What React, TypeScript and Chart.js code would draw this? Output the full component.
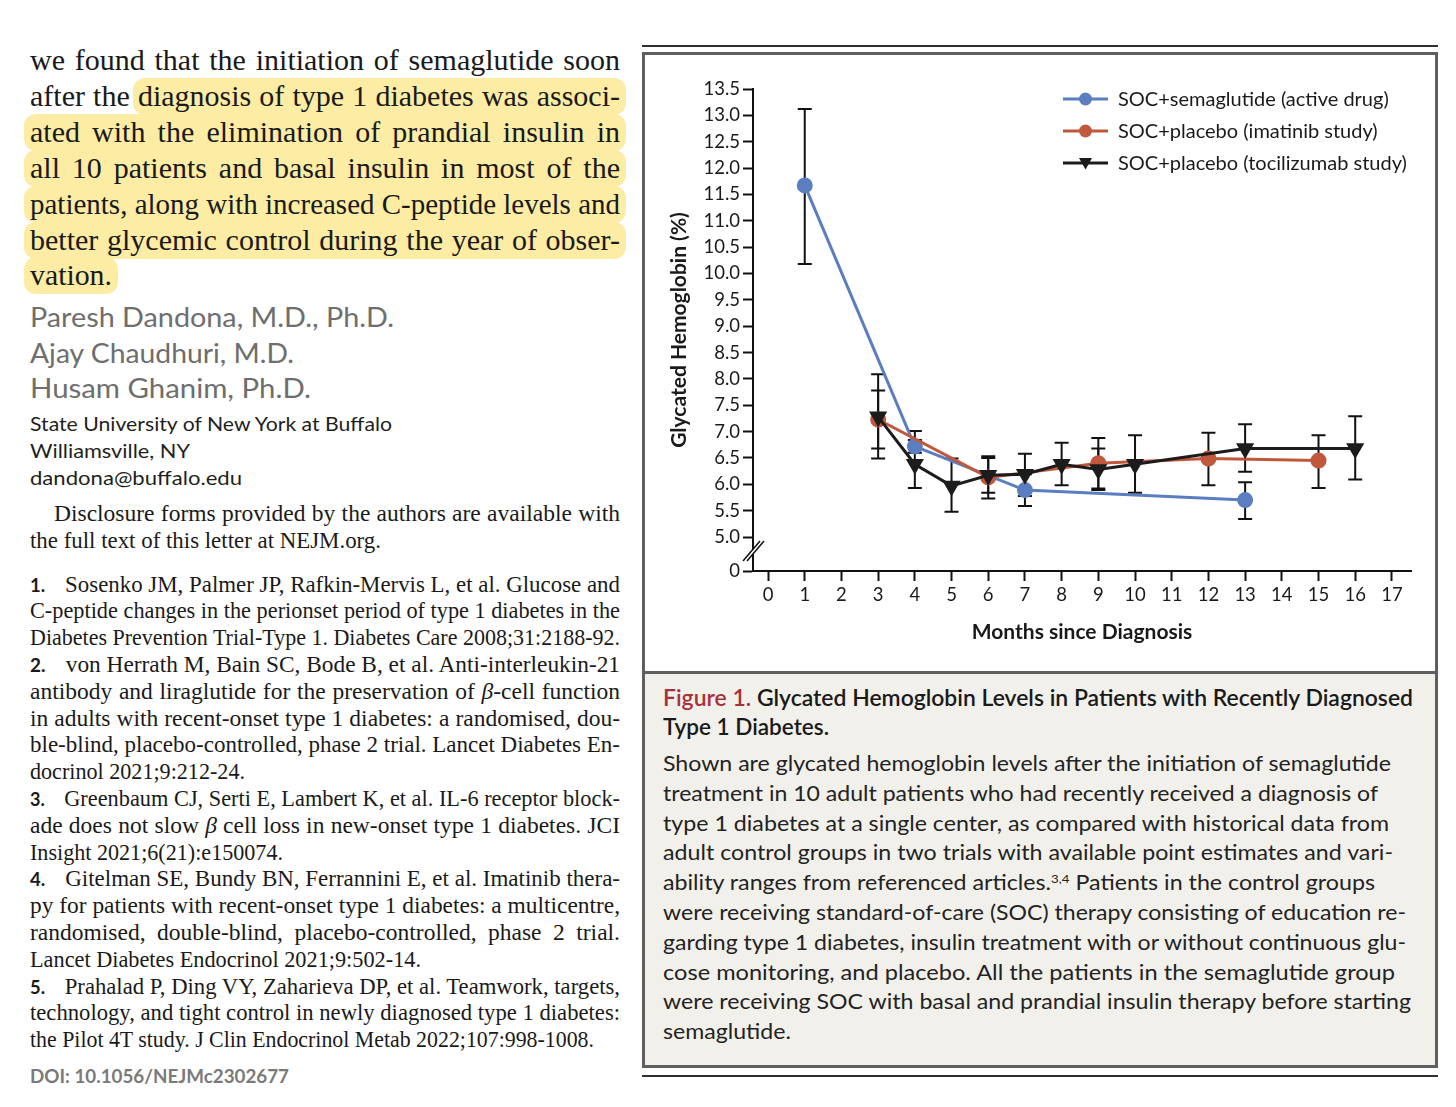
import React, { useEffect, useLayoutEffect, useRef } from 'react';
import { Chart, registerables } from 'chart.js';

Chart.register(...registerables);

// ---------------- DATA ----------------
const seriesNames = [
  'SOC+semaglutide (active drug)',
  'SOC+placebo (imatinib study)',
  'SOC+placebo (tocilizumab study)',
];

const semaMonths = [1, 4, 7, 13];
const semaValues = [11.67, 6.72, 5.89, 5.7];
const semaLow = [10.18, 6.6, 5.59, 5.34];
const semaHigh = [13.12, 6.84, 6.19, 6.04];

const imaMonths = [3, 6, 9, 12, 15];
const imaValues = [7.23, 6.13, 6.4, 6.49, 6.45];
const imaLow = [6.68, 5.73, 5.92, 5.98, 5.93];
const imaHigh = [7.78, 6.5, 6.88, 6.98, 6.93];

const tociMonths = [3, 4, 5, 6, 7, 8, 9, 10, 13, 16];
const tociValues = [7.28, 6.38, 5.97, 6.17, 6.19, 6.38, 6.28, 6.38, 6.68, 6.68];
const tociLow = [6.49, 5.93, 5.48, 5.84, 5.78, 5.98, 5.89, 5.84, 6.24, 6.09];
const tociHigh = [8.09, 7.01, 6.49, 6.53, 6.58, 6.79, 6.68, 6.93, 7.14, 7.29];

const xTickValues = [0, 1, 2, 3, 4, 5, 6, 7, 8, 9, 10, 11, 12, 13, 14, 15, 16, 17];
const yTickValues = [5.0, 5.5, 6.0, 6.5, 7.0, 7.5, 8.0, 8.5, 9.0, 9.5, 10.0, 10.5, 11.0, 11.5, 12.0, 12.5, 13.0, 13.5];
const yBrokenZero = 4.355; // where the broken axis shows "0"
const yZeroLabel = '0';

const xTitle = 'Months since Diagnosis';
const yTitle = 'Glycated Hemoglobin (%)';

const COLORS = ['#5b7ec1', '#c0593c', '#1c1c1c'];

// ---------------- TEXT HELPERS ----------------
const SERIF = "'Liberation Serif', 'DejaVu Serif', serif";
const SANS = "Lato, 'Noto Sans', sans-serif";

type LP = {
  x: number;
  cy: number;
  w?: number;
  lh?: number;
  mode?: 'justify' | 'fit' | 'none';
  style?: React.CSSProperties;
  children: React.ReactNode;
};

function Line({ x, cy, w, lh = 30, mode = 'none', style, children }: LP) {
  const ref = useRef<HTMLSpanElement>(null);
  useLayoutEffect(() => {
    const el = ref.current;
    if (!el) return;
    const apply = () => {
      el.style.wordSpacing = '0px';
      el.style.transform = 'none';
      const nat = el.getBoundingClientRect().width;
      if (!w || mode === 'none' || nat <= 0) return;
      if (mode === 'justify') {
        const spaces = (el.textContent || '').split(' ').length - 1;
        if (nat < w && spaces > 0) el.style.wordSpacing = (w - nat) / spaces + 'px';
        else if (nat > w) el.style.transform = `scaleX(${w / nat})`;
      } else {
        el.style.transform = `scaleX(${w / nat})`;
      }
    };
    apply();
    if ((document as any).fonts && (document as any).fonts.ready) (document as any).fonts.ready.then(apply);
  }, [w, mode]);
  return (
    <div
      style={{
        position: 'absolute',
        left: x,
        top: cy - lh / 2,
        height: lh,
        lineHeight: lh + 'px',
        whiteSpace: 'nowrap',
        ...style,
      }}
    >
      <span ref={ref} style={{ display: 'inline-block', transformOrigin: '0 50%' }}>
        {children}
      </span>
    </div>
  );
}

const Num = ({ n }: { n: string }) => (
  <span style={{ display: 'inline-block', width: 36, fontFamily: SANS, fontWeight: 700, fontSize: 19 }}>{n}</span>
);
const Beta = () => <i>β</i>;

// ---------------- CHART ----------------
function FigureChart() {
  const canvasRef = useRef<HTMLCanvasElement>(null);

  useEffect(() => {
    const canvas = canvasRef.current;
    if (!canvas) return;

    const errorBarPlugin = {
      id: 'errorBars',
      beforeDatasetsDraw(chart: any) {
        const { ctx } = chart;
        const xs = chart.scales.x;
        const ys = chart.scales.y;
        ctx.save();
        ctx.strokeStyle = '#111';
        ctx.lineWidth = 2;
        chart.data.datasets.forEach((ds: any) => {
          ds.data.forEach((p: any, i: number) => {
            const px = xs.getPixelForValue(p.x);
            const yl = ys.getPixelForValue(ds.errLow[i]);
            const yh = ys.getPixelForValue(ds.errHigh[i]);
            ctx.beginPath();
            ctx.moveTo(px, yl);
            ctx.lineTo(px, yh);
            ctx.moveTo(px - 7, yl);
            ctx.lineTo(px + 7, yl);
            ctx.moveTo(px - 7, yh);
            ctx.lineTo(px + 7, yh);
            ctx.stroke();
          });
        });
        ctx.restore();
      },
    };

    const breakPlugin = {
      id: 'axisBreak',
      afterDraw(chart: any) {
        const { ctx, chartArea } = chart;
        const ys = chart.scales.y;
        const cx = chartArea.left;
        const cy = ys.getPixelForValue((yBrokenZero + yTickValues[0]) / 2) - 3;
        const dx = 8.5;
        const dy = 10;
        const gap = 3;
        ctx.save();
        ctx.fillStyle = '#ffffff';
        ctx.beginPath();
        ctx.moveTo(cx - dx - gap / 2, cy + dy);
        ctx.lineTo(cx + dx - gap / 2, cy - dy);
        ctx.lineTo(cx + dx + gap / 2 + 1, cy - dy);
        ctx.lineTo(cx - dx + gap / 2 + 1, cy + dy);
        ctx.closePath();
        ctx.fill();
        ctx.strokeStyle = '#111';
        ctx.lineWidth = 1.5;
        ctx.beginPath();
        ctx.moveTo(cx - dx - gap / 2, cy + dy);
        ctx.lineTo(cx + dx - gap / 2, cy - dy);
        ctx.moveTo(cx - dx + gap / 2 + 1, cy + dy);
        ctx.lineTo(cx + dx + gap / 2 + 1, cy - dy);
        ctx.stroke();
        ctx.restore();
      },
    };

    const legendPlugin = {
      id: 'customLegend',
      afterDraw(chart: any) {
        const { ctx, chartArea } = chart;
        ctx.save();
        ctx.font = `20px ${SANS}`;
        ctx.textBaseline = 'middle';
        ctx.textAlign = 'left';
        seriesNames.forEach((name, i) => {
          const y = chartArea.top + 10 + 32 * i;
          const x0 = chartArea.left + 310;
          const x1 = chartArea.left + 355;
          const mx = (x0 + x1) / 2;
          ctx.strokeStyle = COLORS[i];
          ctx.fillStyle = COLORS[i];
          ctx.lineWidth = 3;
          ctx.beginPath();
          ctx.moveTo(x0, y);
          ctx.lineTo(x1, y);
          ctx.stroke();
          ctx.beginPath();
          if (i < 2) {
            ctx.arc(mx, y, 6.5, 0, Math.PI * 2);
          } else {
            ctx.moveTo(mx - 6.5, y - 5);
            ctx.lineTo(mx + 6.5, y - 5);
            ctx.lineTo(mx, y + 6.5);
            ctx.closePath();
          }
          ctx.fill();
          ctx.fillStyle = '#1a1a1a';
          ctx.fillText(name, chartArea.left + 365, y + 1);
        });
        ctx.restore();
      },
    };

    const mk = (m: number[], v: number[]) => m.map((x, i) => ({ x, y: v[i] }));

    const chart = new Chart(canvas, {
      type: 'line',
      data: {
        datasets: [
          {
            label: seriesNames[0],
            data: mk(semaMonths, semaValues),
            errLow: semaLow,
            errHigh: semaHigh,
            borderColor: COLORS[0],
            backgroundColor: COLORS[0],
            pointBackgroundColor: COLORS[0],
            pointBorderColor: COLORS[0],
            borderWidth: 3,
            pointRadius: 6.5,
            pointStyle: 'circle',
            order: 3,
            tension: 0,
          } as any,
          {
            label: seriesNames[1],
            data: mk(imaMonths, imaValues),
            errLow: imaLow,
            errHigh: imaHigh,
            borderColor: COLORS[1],
            backgroundColor: COLORS[1],
            pointBackgroundColor: COLORS[1],
            pointBorderColor: COLORS[1],
            borderWidth: 3,
            pointRadius: 6.5,
            pointStyle: 'circle',
            order: 2,
            tension: 0,
          } as any,
          {
            label: seriesNames[2],
            data: mk(tociMonths, tociValues),
            errLow: tociLow,
            errHigh: tociHigh,
            borderColor: COLORS[2],
            backgroundColor: COLORS[2],
            pointBackgroundColor: COLORS[2],
            pointBorderColor: COLORS[2],
            borderWidth: 3,
            pointRadius: 7.5,
            pointStyle: 'triangle',
            rotation: 180,
            order: 1,
            tension: 0,
          } as any,
        ],
      },
      options: {
        animation: false,
        responsive: true,
        maintainAspectRatio: false,
        layout: { padding: { left: 0, right: 23, top: 33, bottom: 0 } },
        plugins: { legend: { display: false }, tooltip: { enabled: false } },
        events: [],
        scales: {
          x: {
            type: 'linear',
            min: -0.41,
            max: 17.52,
            afterFit: (s: any) => {
              s.height = 99;
            },
            afterBuildTicks: (s: any) => {
              s.ticks = xTickValues.map((v) => ({ value: v }));
            },
            ticks: {
              autoSkip: false,
              padding: 3,
              color: '#1a1a1a',
              font: { family: SANS, size: 18.5 },
              callback: (v: any) => String(v),
            },
            grid: {
              display: true,
              drawOnChartArea: false,
              drawTicks: true,
              tickLength: 10,
              tickColor: '#111',
              tickWidth: 2,
            },
            border: { display: true, color: '#111', width: 2 },
            title: {
              display: true,
              text: xTitle,
              color: '#1a1a1a',
              font: { family: SANS, size: 21, weight: 'bold' },
              padding: { top: 0, bottom: 25 },
            },
          },
          y: {
            type: 'linear',
            min: yBrokenZero,
            max: yTickValues[yTickValues.length - 1],
            afterFit: (s: any) => {
              s.width = 107;
            },
            afterBuildTicks: (s: any) => {
              s.ticks = [yBrokenZero, ...yTickValues].map((v) => ({ value: v }));
            },
            ticks: {
              autoSkip: false,
              padding: 3,
              color: '#1a1a1a',
              font: { family: SANS, size: 18.5 },
              callback: (v: any) => (v < yTickValues[0] ? yZeroLabel : Number(v).toFixed(1)),
            },
            grid: {
              display: true,
              drawOnChartArea: false,
              drawTicks: true,
              tickLength: 10,
              tickColor: '#111',
              tickWidth: 2,
            },
            border: { display: true, color: '#111', width: 2 },
            title: {
              display: true,
              text: yTitle,
              color: '#1a1a1a',
              font: { family: SANS, size: 21, weight: 'bold' },
              padding: { top: 21, bottom: 0 },
            },
          },
        },
      } as any,
      plugins: [errorBarPlugin, breakPlugin, legendPlugin],
    });

    return () => chart.destroy();
  }, []);

  return (
    <div style={{ position: 'absolute', left: 646, top: 56, width: 788, height: 614 }}>
      <canvas ref={canvasRef} />
    </div>
  );
}

// ---------------- PAGE ----------------
const para = [
  'we found that the initiation of semaglutide soon',
  'after the diagnosis of type 1 diabetes was associ-',
  'ated with the elimination of prandial insulin in',
  'all 10 patients and basal insulin in most of the',
  'patients, along with increased C-peptide levels and',
  'better glycemic control during the year of obser-',
];

const highlightRows = [
  { x: 133, cy: 96, w: 493 },
  { x: 24, cy: 132, w: 602 },
  { x: 24, cy: 168, w: 602 },
  { x: 24, cy: 204, w: 602 },
  { x: 24, cy: 240, w: 602 },
  { x: 24, cy: 275, w: 94 },
];

const captionLines: { t: React.ReactNode; end: number }[] = [
  { t: 'Shown are glycated hemoglobin levels after the initiation of semaglutide', end: 1391 },
  { t: 'treatment in 10 adult patients who had recently received a diagnosis of', end: 1378 },
  { t: 'type 1 diabetes at a single center, as compared with historical data from', end: 1389 },
  { t: 'adult control groups in two trials with available point estimates and vari-', end: 1393 },
  {
    t: (
      <>
        ability ranges from referenced articles.
        <sup style={{ fontSize: 12, lineHeight: 0, verticalAlign: '0.55em' }}>3,4</sup> Patients in the control groups
      </>
    ),
    end: 1375,
  },
  { t: 'were receiving standard-of-care (SOC) therapy consisting of education re-', end: 1406 },
  { t: 'garding type 1 diabetes, insulin treatment with or without continuous glu-', end: 1406 },
  { t: 'cose monitoring, and placebo. All the patients in the semaglutide group', end: 1395 },
  { t: 'were receiving SOC with basal and prandial insulin therapy before starting', end: 1411 },
  { t: 'semaglutide.', end: 791 },
];

type Ref = { t: React.ReactNode; mode: 'justify' | 'fit'; end: number };
const refLines: Ref[] = [
  { t: <><Num n="1." />Sosenko JM, Palmer JP, Rafkin-Mervis L, et al. Glucose and</>, mode: 'justify', end: 620 },
  { t: 'C-peptide changes in the perionset period of type 1 diabetes in the', mode: 'justify', end: 620 },
  { t: 'Diabetes Prevention Trial-Type 1. Diabetes Care 2008;31:2188-92.', mode: 'justify', end: 620 },
  { t: <><Num n="2." />von Herrath M, Bain SC, Bode B, et al. Anti-interleukin-21</>, mode: 'justify', end: 620 },
  { t: <>antibody and liraglutide for the preservation of <Beta />-cell function</>, mode: 'justify', end: 620 },
  { t: 'in adults with recent-onset type 1 diabetes: a randomised, dou-', mode: 'justify', end: 620 },
  { t: 'ble-blind, placebo-controlled, phase 2 trial. Lancet Diabetes En-', mode: 'justify', end: 620 },
  { t: 'docrinol 2021;9:212-24.', mode: 'fit', end: 245 },
  { t: <><Num n="3." />Greenbaum CJ, Serti E, Lambert K, et al. IL-6 receptor block-</>, mode: 'justify', end: 620 },
  { t: <>ade does not slow <Beta /> cell loss in new-onset type 1 diabetes. JCI</>, mode: 'justify', end: 620 },
  { t: 'Insight 2021;6(21):e150074.', mode: 'fit', end: 283 },
  { t: <><Num n="4." />Gitelman SE, Bundy BN, Ferrannini E, et al. Imatinib thera-</>, mode: 'justify', end: 620 },
  { t: 'py for patients with recent-onset type 1 diabetes: a multicentre,', mode: 'justify', end: 620 },
  { t: 'randomised, double-blind, placebo-controlled, phase 2 trial.', mode: 'justify', end: 620 },
  { t: 'Lancet Diabetes Endocrinol 2021;9:502-14.', mode: 'fit', end: 421 },
  { t: <><Num n="5." />Prahalad P, Ding VY, Zaharieva DP, et al. Teamwork, targets,</>, mode: 'justify', end: 620 },
  { t: 'technology, and tight control in newly diagnosed type 1 diabetes:', mode: 'justify', end: 620 },
  { t: 'the Pilot 4T study. J Clin Endocrinol Metab 2022;107:998-1008.', mode: 'fit', end: 594 },
];

export default function App() {
  const serifBody: React.CSSProperties = { fontFamily: SERIF, fontSize: 30, color: '#1a1a1a' };
  const refStyle: React.CSSProperties = { fontFamily: SERIF, fontSize: 23.5, color: '#1a1a1a' };
  const capStyle: React.CSSProperties = { fontFamily: SANS, fontSize: 21, color: '#232323' };

  return (
    <div
      style={{
        position: 'absolute',
        left: 0,
        top: 0,
        width: 1456,
        height: 1107,
        background: '#ffffff',
        overflow: 'hidden',
      }}
    >
      {/* highlights */}
      {highlightRows.map((h, i) => (
        <div
          key={'h' + i}
          style={{
            position: 'absolute',
            left: h.x,
            top: h.cy - 18,
            width: h.w,
            height: 37,
            background: '#fceca4',
            borderRadius: 12,
          }}
        />
      ))}

      {para.map((t, i) => (
        <Line key={'p' + i} x={30} cy={60 + 36 * i} w={590} lh={36} mode="justify" style={serifBody}>
          {t}
        </Line>
      ))}
      <Line x={30} cy={275} w={82} lh={36} mode="fit" style={serifBody}>
        vation.
      </Line>

      {/* authors */}
      {[
        { t: 'Paresh Dandona, M.D., Ph.D.', cy: 317, end: 394 },
        { t: 'Ajay Chaudhuri, M.D.', cy: 353, end: 294 },
        { t: 'Husam Ghanim, Ph.D.', cy: 388, end: 311 },
      ].map((a, i) => (
        <Line key={'a' + i} x={30} cy={a.cy} w={a.end - 30} lh={36} mode="fit" style={{ fontFamily: SANS, fontSize: 27, color: '#6e6e6e' }}>
          {a.t}
        </Line>
      ))}

      {[
        { t: 'State University of New York at Buffalo', cy: 423, end: 392 },
        { t: 'Williamsville, NY', cy: 450, end: 190 },
        { t: 'dandona@buffalo.edu', cy: 477, end: 242 },
      ].map((a, i) => (
        <Line key={'f' + i} x={30} cy={a.cy} w={a.end - 30} lh={27} mode="fit" style={{ fontFamily: SANS, fontSize: 20, color: '#1f1f1f' }}>
          {a.t}
        </Line>
      ))}

      <Line x={30} cy={513} w={590} lh={27} mode="justify" style={refStyle}>
        <span style={{ display: 'inline-block', width: 24 }} />
        Disclosure forms provided by the authors are available with
      </Line>
      <Line x={30} cy={540} w={351} lh={27} mode="fit" style={refStyle}>
        the full text of this letter at NEJM.org.
      </Line>

      {refLines.map((r, i) => (
        <Line key={'r' + i} x={30} cy={584 + 26.8 * i} w={r.end - 30} lh={27} mode={r.mode} style={refStyle}>
          {r.t}
        </Line>
      ))}

      <Line x={30} cy={1076} w={259} lh={26} mode="fit" style={{ fontFamily: SANS, fontSize: 19, fontWeight: 700, color: '#7a7a7a' }}>
        DOI: 10.1056/NEJMc2302677
      </Line>

      {/* figure frame */}
      <div style={{ position: 'absolute', left: 642, top: 45, width: 796, height: 2, background: '#2e2e2e' }} />
      <div
        style={{
          position: 'absolute',
          left: 642,
          top: 52,
          width: 796,
          height: 1016,
          border: '3px solid #5f5f5f',
          boxSizing: 'border-box',
          background: '#ffffff',
        }}
      />
      <div style={{ position: 'absolute', left: 645, top: 673, width: 790, height: 392, background: '#f2f0eb' }} />
      <div style={{ position: 'absolute', left: 642, top: 671, width: 796, height: 3, background: '#5f5f5f' }} />
      <div style={{ position: 'absolute', left: 642, top: 1075, width: 796, height: 2, background: '#2e2e2e' }} />

      <FigureChart />

      {/* caption */}
      <Line x={663} cy={698} w={750} lh={30} mode="fit" style={{ fontFamily: SANS, fontSize: 22, fontWeight: 600, color: '#1a1a1a' }}>
        <span style={{ color: '#a8323a' }}>Figure 1.</span> Glycated Hemoglobin Levels in Patients with Recently Diagnosed
      </Line>
      <Line x={663} cy={727} w={166} lh={30} mode="fit" style={{ fontFamily: SANS, fontSize: 22, fontWeight: 600, color: '#1a1a1a' }}>
        Type 1 Diabetes.
      </Line>
      {captionLines.map((c, i) => (
        <Line key={'c' + i} x={663} cy={763 + 29.8 * i} w={c.end - 663} lh={30} mode="fit" style={capStyle}>
          {c.t}
        </Line>
      ))}
    </div>
  );
}
